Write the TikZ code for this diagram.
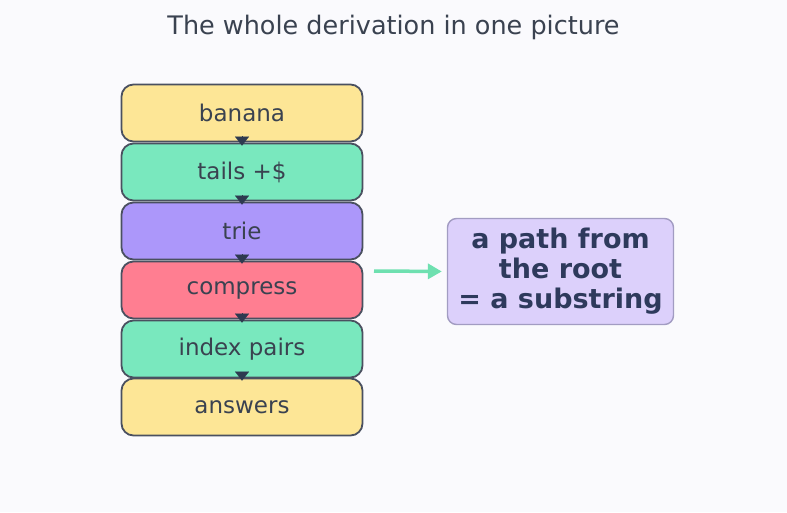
\documentclass[tikz,border=0pt]{standalone}
\usepackage{fontspec}
\setmainfont{DejaVu Sans}
\usetikzlibrary{arrows.meta}
\definecolor{bg}{HTML}{FAFAFD}
\definecolor{ink}{HTML}{3A4250}
\definecolor{edge}{HTML}{4A5060}
\definecolor{cyel}{HTML}{FDE696}
\definecolor{cgrn}{HTML}{79E8BE}
\definecolor{cpur}{HTML}{AC97FA}
\definecolor{cred}{HTML}{FF7E91}
\definecolor{noteF}{HTML}{DCD0FB}
\definecolor{noteD}{HTML}{A29CC2}
\definecolor{noteT}{HTML}{2E3A5C}
\definecolor{garrow}{HTML}{6EE0B0}
\definecolor{tip}{HTML}{2E3A50}
\tikzset{
  x=1pt,y=-1pt,
  stage/.style={draw=edge, line width=1.8pt, rounded corners=12pt, minimum width=241pt, minimum height=57pt, inner sep=0pt, text=ink, font=\fontsize{23}{27}\selectfont},
  flow/.style={draw=tip, line width=0.1pt, -{Triangle[width=14pt,length=9pt]}},
  note/.style={draw=noteD, fill=noteF, line width=1.4pt, rounded corners=9pt, minimum width=226pt, minimum height=106pt, align=center, text=noteT, font=\fontsize{27}{30}\selectfont\bfseries},
  link/.style={draw=garrow, line width=3.5pt, shorten >=5pt, -{Triangle[width=15pt,length=14pt]}}
}
\begin{document}
\begin{tikzpicture}
\fill[bg] (0,0) rectangle (787,512);
\useasboundingbox (0,0) rectangle (787,512);
\node[text=ink, font=\fontsize{25.5}{30}\selectfont] (title) at (393.5,27) {The whole derivation in one picture};
\node[stage, fill=cyel] (s1) at (242,113) {banana};
\node[stage, fill=cgrn] (s2) at (242,172) {tails +\$};
\node[stage, fill=cpur] (s3) at (242,231) {trie};
\node[stage, fill=cred] (s4) at (242,290) {compress};
\node[stage, fill=cgrn] (s5) at (242,349) {index pairs};
\node[stage, fill=cyel] (s6) at (242,407) {answers};
\foreach \a/\b in {s1/s2,s2/s3,s3/s4,s4/s5,s5/s6}
  \draw[flow] ([yshift=6pt]\a.south) -- ([yshift=-3pt]\b.north);
\node[note] (n) at (560.5,271.5) {a path from\\the root\\= a substring};
\draw[link] (374,271) coordinate (c) -- (n.west);
\end{tikzpicture}
\end{document}
